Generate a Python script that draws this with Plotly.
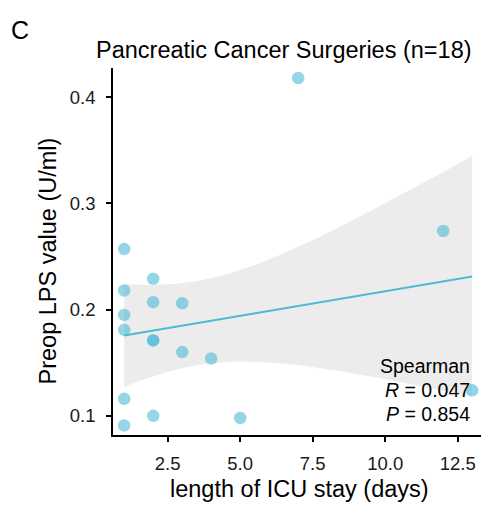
import numpy as np
import plotly.graph_objects as go

# ICU length of stay (days) and preoperative LPS values (U/ml), n = 18
icu_days = [1, 1, 1, 1, 1, 1, 2, 2, 2, 2, 2, 3, 3, 4, 5, 7, 12, 13]
lps_values = [0.257, 0.218, 0.195, 0.181, 0.116, 0.091,
              0.229, 0.207, 0.171, 0.171, 0.100,
              0.206, 0.160, 0.154, 0.098, 0.418, 0.274, 0.124]

x_ticks = [2.5, 5.0, 7.5, 10.0, 12.5]
y_ticks = [0.1, 0.2, 0.3, 0.4]

spearman_r = "0.047"
spearman_p = "0.854"

FONT = "Liberation Sans, Arial, sans-serif"
POINT = "rgba(77,187,213,0.6)"
LINE = "#4DBBD5"
BAND = "#ECECEC"

# Linear regression with a 95% confidence band
x = np.asarray(icu_days, dtype=float)
y = np.asarray(lps_values, dtype=float)
n = len(x)
slope, intercept = np.polyfit(x, y, 1)
resid = y - (slope * x + intercept)
s = np.sqrt(np.sum(resid ** 2) / (n - 2))
sxx = np.sum((x - x.mean()) ** 2)
t_crit = 2.119905  # t(0.975, df = 16)
xs = np.linspace(x.min(), x.max(), 80)
fit = slope * xs + intercept
se = s * np.sqrt(1.0 / n + (xs - x.mean()) ** 2 / sxx)
lower = fit - t_crit * se
upper = fit + t_crit * se

fig = go.Figure()
fig.add_trace(go.Scatter(
    x=np.concatenate([xs, xs[::-1]]),
    y=np.concatenate([upper, lower[::-1]]),
    fill="toself", fillcolor=BAND, line=dict(width=0),
    mode="lines", hoverinfo="skip", showlegend=False))
fig.add_trace(go.Scatter(
    x=icu_days, y=lps_values, mode="markers",
    marker=dict(color=POINT, size=12.5, line=dict(width=0)),
    showlegend=False))
fig.add_trace(go.Scatter(
    x=xs, y=fit, mode="lines", line=dict(color=LINE, width=2),
    showlegend=False))

W, H = 481, 506
L, R, T, B = 113, 0, 68, 71


def px(xp):
    return (xp - L) / (W - L - R)


def py(yp):
    return (H - B - yp) / (H - T - B)


axis_common = dict(
    showline=True, linecolor="black", linewidth=1.5,
    ticks="outside", ticklen=5, tickwidth=1.5, tickcolor="black",
    showgrid=False, zeroline=False,
    tickfont=dict(family=FONT, size=18.5, color="#1a1a1a"),
)

fig.update_layout(
    width=W, height=H,
    margin=dict(l=L, r=R, t=T, b=B),
    paper_bgcolor="white", plot_bgcolor="white",
    font=dict(family=FONT, color="black"),
    xaxis=dict(range=[0.614, 13.304], tickvals=x_ticks,
               ticktext=["2.5", "5.0", "7.5", "10.0", "12.5"],
               ticklabelstandoff=6, **axis_common),
    yaxis=dict(range=[0.082, 0.4274], tickvals=y_ticks,
               ticktext=["0.1", "0.2", "0.3", "0.4"],
               ticklabelstandoff=7, **axis_common),
)

annotations = [
    dict(text="C", x=px(20), y=py(30), xanchor="center", yanchor="middle",
         font=dict(size=25)),
    dict(text="Pancreatic Cancer Surgeries (n=18)", x=px(283.5), y=py(50),
         xanchor="center", yanchor="middle", font=dict(size=23.5)),
    dict(text="length of ICU stay (days)", x=px(299), y=py(489),
         xanchor="center", yanchor="middle", font=dict(size=23.5)),
    dict(text="Preop LPS value (U/ml)", x=px(47.5), y=py(261), textangle=-90,
         xanchor="center", yanchor="middle", font=dict(size=23.5)),
    dict(text="Spearman", x=px(471.5), y=py(366),
         xanchor="right", yanchor="middle", font=dict(size=19.5)),
    dict(text=f"<i>R</i> = {spearman_r}", x=px(471.5), y=py(390),
         xanchor="right", yanchor="middle", font=dict(size=19.5)),
    dict(text=f"<i>P</i> = {spearman_p}", x=px(471.5), y=py(414),
         xanchor="right", yanchor="middle", font=dict(size=19.5)),
]
for a in annotations:
    a.update(xref="paper", yref="paper", showarrow=False)
    a["font"] = dict(family=FONT, color="black", **a["font"])
fig.update_layout(annotations=annotations)

fig.write_html("out.html")
